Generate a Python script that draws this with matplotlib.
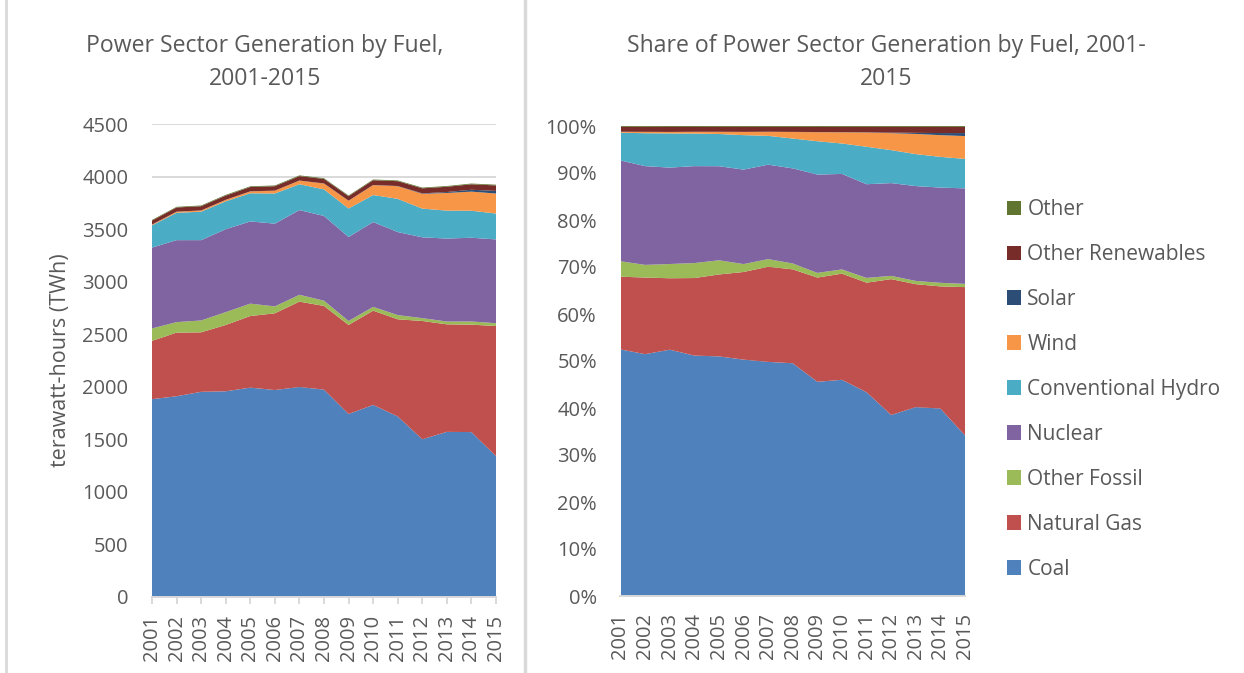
import matplotlib
matplotlib.use("Agg")
import matplotlib.pyplot as plt
from matplotlib.lines import Line2D
import numpy as np

plt.rcParams['font.family'] = ['Open Sans', 'DejaVu Sans']
txt = '#595959'
grid = '#d9d9d9'

# generation by fuel, TWh
years = np.arange(2001, 2016)
coal = [1882, 1910, 1952, 1957, 1992, 1969, 1998, 1973, 1741, 1827, 1718, 1500, 1571, 1569, 1340]
gas = [555, 605, 566, 631, 681, 730, 812, 796, 847, 897, 924, 1126, 1023, 1022, 1238]
other_fossil = [118, 100, 113, 122, 118, 66, 65, 50, 38, 36, 40, 27, 27, 30, 27]
nuclear = [769, 780, 764, 789, 782, 787, 806, 806, 799, 807, 790, 769, 789, 797, 797]
hydro = [212, 260, 271, 265, 268, 287, 246, 253, 271, 257, 316, 273, 266, 257, 246]
wind = [6.7, 10.4, 11.2, 14.1, 17.8, 26.6, 34.5, 55.4, 73.9, 94.7, 120.2, 140.8, 167.8, 181.7, 190.7]
solar = [0.5, 0.5, 0.5, 0.6, 0.6, 0.5, 0.6, 0.9, 0.9, 1.2, 1.8, 4.3, 9.0, 17.7, 24.9]
other_ren = [38, 40, 40, 40, 41, 42, 42, 43, 42, 45, 46, 48, 50, 52, 52]
other = [6, 6, 7, 7, 7, 7, 7, 7, 7, 7, 7, 7, 7, 7, 7]

labels = ['Coal', 'Natural Gas', 'Other Fossil', 'Nuclear', 'Conventional Hydro',
          'Wind', 'Solar', 'Other Renewables', 'Other']
colors = ['#4F81BD', '#C0504D', '#9BBB59', '#8064A2', '#4BACC6',
          '#F79646', '#2C4D75', '#772C2A', '#5F7530']

series = np.array([coal, gas, other_fossil, nuclear, hydro, wind, solar, other_ren, other], dtype=float)
shares = series / series.sum(axis=0) * 100

W, H = 1244, 673
fig = plt.figure(figsize=(W / 100, H / 100), dpi=100)

def box(l, r, t, b):
    return [l / W, 1 - b / H, (r - l) / W, (b - t) / H]

ax1 = fig.add_axes(box(152, 496, 124, 597))
ax2 = fig.add_axes(box(620.5, 965, 126, 596))

ax1.stackplot(years, series, colors=colors, labels=labels, lw=0)
ax2.stackplot(years, shares, colors=colors, labels=labels, lw=0)

fs = 14.5
tfs = 16.6
for ax in (ax1, ax2):
    ax.set_xlim(2001, 2015)
    ax.set_xticks(years)
    ax.set_xticklabels([str(y) for y in years], rotation=90, fontsize=fs, color=txt)
    ax.set_axisbelow(True)
    ax.grid(axis='y', color=grid, lw=1.4)
    for s in ['top', 'right', 'left']:
        ax.spines[s].set_visible(False)
    ax.spines['bottom'].set_color(grid)
    ax.spines['bottom'].set_linewidth(1.4)
    ax.tick_params(axis='y', length=0, pad=17, labelsize=fs, labelcolor=txt)

ax1.set_ylim(0, 4500)
ax1.set_yticks(np.arange(0, 4501, 500))
ax1.tick_params(axis='x', length=5, width=1.4, color=grid, pad=8)
ax1.set_ylabel('terawatt-hours (TWh)', fontsize=15.5, color=txt, labelpad=8)

ax2.set_ylim(0, 100)
ax2.set_yticks(np.arange(0, 101, 10))
ax2.set_yticklabels([f'{v}%' for v in range(0, 101, 10)])
ax2.tick_params(axis='x', length=0, pad=12)

# titles
fig.text(265 / W, 1 - 51.7 / H, 'Power Sector Generation by Fuel,', ha='center', va='baseline', fontsize=tfs, color=txt)
fig.text(265 / W, 1 - 85 / H, '2001-2015', ha='center', va='baseline', fontsize=tfs, color=txt)
fig.text(886 / W, 1 - 51.7 / H, 'Share of Power Sector Generation by Fuel, 2001-', ha='center', va='baseline', fontsize=tfs, color=txt)
fig.text(886 / W, 1 - 85 / H, '2015', ha='center', va='baseline', fontsize=tfs, color=txt)

# legend, reversed order
h, l = ax2.get_legend_handles_labels()
fig.legend(h[::-1], l[::-1], loc='upper left', bbox_to_anchor=(1007 / W, 1 - 199 / H),
           frameon=False, fontsize=15, labelcolor=txt, handlelength=0.68, handleheight=0.68,
           handletextpad=0.3, labelspacing=1.15, borderpad=0, borderaxespad=0)

# panel borders
fig.add_artist(Line2D([6 / W, 6 / W], [0, 1], color=grid, lw=2))
fig.add_artist(Line2D([525 / W, 525 / W], [0, 1], color=grid, lw=2.5))

fig.savefig('out.png', dpi=100)
